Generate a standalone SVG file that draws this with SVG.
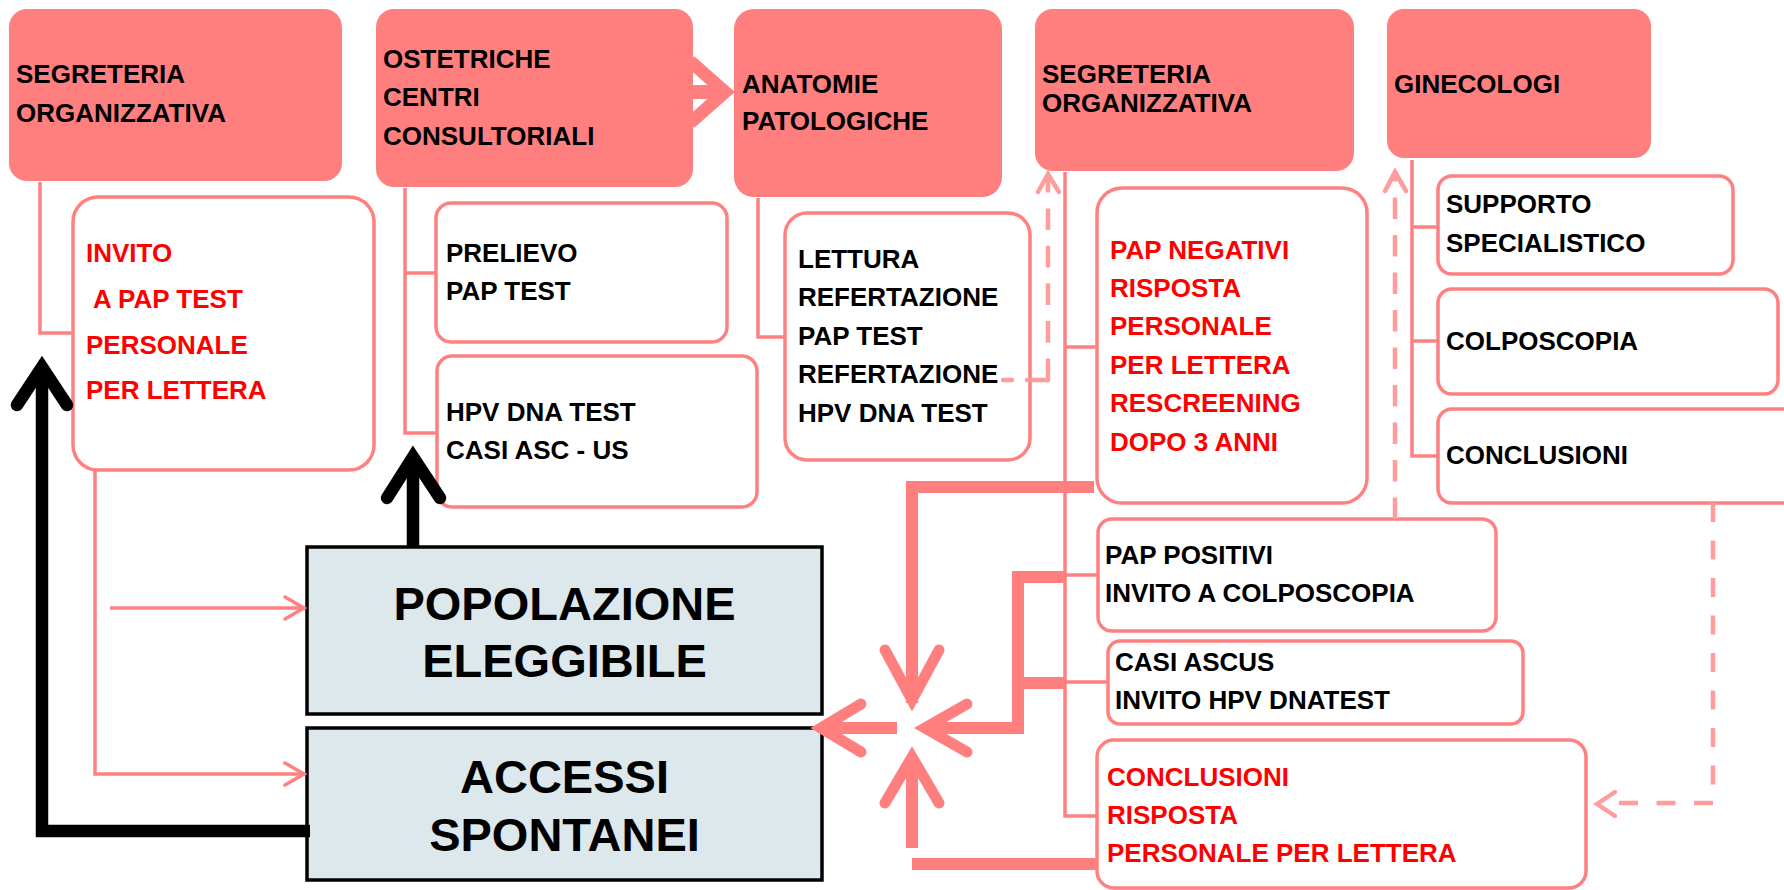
<svg xmlns="http://www.w3.org/2000/svg" width="1784" height="890" viewBox="0 0 1784 890">
<style>
text{font-family:"Liberation Sans",Arial,sans-serif;font-weight:bold;font-size:26px;fill:#000}
.red{fill:#FF0000}
.big{font-size:47px}
.hdr{fill:#FF7F7F}
.sub{fill:#FFFFFF;stroke:#FF8080;stroke-width:3.5}
.blue{fill:#DDE8EC;stroke:#000;stroke-width:3.5}
.thin{fill:none;stroke:#FF8080;stroke-width:3.5}
.dash{fill:none;stroke:#FF9C9C;stroke-width:4.5;stroke-dasharray:21.5 16}
.dsol{fill:none;stroke:#FF9C9C;stroke-width:4.5;stroke-linecap:round;stroke-linejoin:miter}
.thick{fill:none;stroke:#FF7F7F;stroke-width:12;stroke-linejoin:miter}
.thead{fill:none;stroke:#FF7F7F;stroke-width:11;stroke-linecap:round;stroke-linejoin:miter;stroke-miterlimit:10}
.black{fill:none;stroke:#000;stroke-width:12.5;stroke-linejoin:miter}
.bhead{fill:none;stroke:#000;stroke-width:12.5;stroke-linecap:round;stroke-linejoin:miter;stroke-miterlimit:10}
</style>

<g id="seg-org-1">
<rect class="hdr" x="9" y="9" width="333" height="172" rx="18"/>
<text x="16" y="83">SEGRETERIA</text>
<text x="16" y="122">ORGANIZZATIVA</text>
</g>
<g id="ostetriche">
<rect class="hdr" x="376" y="9" width="317" height="178" rx="18"/>
<text x="383" y="68">OSTETRICHE</text>
<text x="383" y="106">CENTRI</text>
<text x="383" y="145">CONSULTORIALI</text>
</g>
<g id="anatomie">
<rect class="hdr" x="734" y="9" width="268" height="188" rx="20"/>
<text x="742" y="93">ANATOMIE</text>
<text x="742" y="130">PATOLOGICHE</text>
</g>
<g id="seg-org-2">
<rect class="hdr" x="1035" y="9" width="319" height="162" rx="18"/>
<text x="1042" y="83">SEGRETERIA</text>
<text x="1042" y="112">ORGANIZZATIVA</text>
</g>
<g id="ginecologi">
<rect class="hdr" x="1387" y="9" width="264" height="149" rx="17"/>
<text x="1394" y="93">GINECOLOGI</text>
</g>

<g id="invito">
<rect class="sub" x="73" y="197" width="301" height="273" rx="25"/>
<text class="red" x="86" y="262">INVITO</text>
<text class="red" x="93" y="308">A PAP TEST</text>
<text class="red" x="86" y="354">PERSONALE</text>
<text class="red" x="86" y="399">PER LETTERA</text>
</g>
<g id="prelievo">
<rect class="sub" x="436" y="203" width="291" height="139" rx="15"/>
<text x="446" y="262">PRELIEVO</text>
<text x="446" y="300">PAP TEST</text>
</g>
<g id="hpv">
<rect class="sub" x="437" y="356" width="320" height="151" rx="15"/>
<text x="446" y="421">HPV DNA TEST</text>
<text x="446" y="459">CASI ASC - US</text>
</g>
<g id="lettura">
<rect class="sub" x="785" y="213" width="245" height="247" rx="22"/>
<text x="798" y="268">LETTURA</text>
<text x="798" y="306">REFERTAZIONE</text>
<text x="798" y="345">PAP TEST</text>
<text x="798" y="383">REFERTAZIONE</text>
<text x="798" y="422">HPV DNA TEST</text>
</g>
<g id="pap-negativi">
<rect class="sub" x="1097" y="188" width="270" height="315" rx="25"/>
<text class="red" x="1110" y="259">PAP NEGATIVI</text>
<text class="red" x="1110" y="297">RISPOSTA</text>
<text class="red" x="1110" y="335">PERSONALE</text>
<text class="red" x="1110" y="374">PER LETTERA</text>
<text class="red" x="1110" y="412">RESCREENING</text>
<text class="red" x="1110" y="451">DOPO 3 ANNI</text>
</g>
<g id="supporto">
<rect class="sub" x="1438" y="176" width="295" height="98" rx="14"/>
<text x="1446" y="213">SUPPORTO</text>
<text x="1446" y="252">SPECIALISTICO</text>
</g>
<g id="colposcopia">
<rect class="sub" x="1438" y="289" width="340" height="105" rx="14"/>
<text x="1446" y="350">COLPOSCOPIA</text>
</g>
<g id="conclusioni-gin">
<rect class="sub" x="1438" y="409" width="400" height="94" rx="14"/>
<text x="1446" y="464">CONCLUSIONI</text>
</g>
<g id="pap-positivi">
<rect class="sub" x="1098" y="519" width="398" height="112" rx="14"/>
<text x="1105" y="564">PAP POSITIVI</text>
<text x="1105" y="602">INVITO A COLPOSCOPIA</text>
</g>
<g id="casi-ascus">
<rect class="sub" x="1108" y="641" width="415" height="83" rx="12"/>
<text x="1115" y="671">CASI ASCUS</text>
<text x="1115" y="709">INVITO HPV DNATEST</text>
</g>
<g id="conclusioni-lettera">
<rect class="sub" x="1097" y="740" width="489" height="148" rx="17"/>
<text class="red" x="1107" y="786">CONCLUSIONI</text>
<text class="red" x="1107" y="824">RISPOSTA</text>
<text class="red" x="1107" y="862">PERSONALE PER LETTERA</text>
</g>
<g id="popolazione">
<rect class="blue" x="307" y="547" width="515" height="167"/>
<text class="big" x="564.5" y="620" text-anchor="middle">POPOLAZIONE</text>
<text class="big" x="564.5" y="677" text-anchor="middle">ELEGGIBILE</text>
</g>
<g id="accessi">
<rect class="blue" x="307" y="728" width="515" height="152"/>
<text class="big" x="564.5" y="793" text-anchor="middle">ACCESSI</text>
<text class="big" x="564.5" y="851" text-anchor="middle">SPONTANEI</text>
</g>

<g id="connectors">
<!-- double arrow ostetriche -> anatomie -->
<line x1="692" y1="92" x2="722" y2="92" stroke="#FF7F7F" stroke-width="14"/>
<polyline points="690,61 725,92 690,123" fill="none" stroke="#FF7F7F" stroke-width="13" stroke-linejoin="miter" stroke-miterlimit="10"/>
<!-- thin tree lines -->
<path class="thin" d="M40,182 V333 H73"/>
<path class="thin" d="M405,188 V433 H437 M405,273 H436"/>
<path class="thin" d="M758,198 V337 H785"/>
<path class="thin" d="M1065,172 V816 H1097 M1065,347 H1097 M1065,575 H1098 M1065,682 H1108"/>
<path class="thin" d="M1412,160 V456 H1438 M1412,227 H1438 M1412,341 H1438"/>
<!-- thin arrows to blue boxes -->
<path class="thin" d="M95,470 V774 H302"/>
<polyline class="thin" points="285,763 304,774 285,785" stroke-linecap="round"/>
<path class="thin" d="M110,608 H302"/>
<polyline class="thin" points="285,597 304,608 285,619" stroke-linecap="round"/>
<!-- dashed lettura -> segreteria -->
<path class="dsol" d="M1003,380 H1012 M1027,380 H1048" stroke-linecap="butt"/>
<path class="dash" d="M1048,380 V176"/>
<polyline class="dsol" points="1038,192 1048,174 1059,192"/>
<!-- dashed pap positivi -> ginecologi -->
<path class="dash" d="M1395,519 V174"/>
<polyline class="dsol" points="1385,191 1395,172 1406,191"/>
<!-- dashed conclusioni gin -> conclusioni lettera -->
<path class="dash" d="M1713,503 V803 H1600" style="stroke-dasharray:19 18.5"/>
<polyline class="dsol" points="1615,792 1597,804 1615,816"/>
<!-- thick pink arrows -->
<path class="thick" d="M1094,487 H912 V703"/>
<polyline class="thead" points="885,650 912,700 939,650"/>
<path class="thick" d="M1066,577 H1018 V728 H924 M1018,683 H1066"/>
<polyline class="thead" points="967,704 925,728 967,752"/>
<path class="thick" d="M912,848 V760 M1098,864 H912"/>
<polyline class="thead" points="885,803 912,757 939,803"/>
<path class="thick" d="M897,728 H830"/>
<polyline class="thead" points="861,704 821,728 861,752"/>
<!-- black arrows -->
<path class="black" d="M310,831 H42 V375"/>
<polyline class="bhead" points="17,405 42,367 67,405"/>
<path class="black" d="M413,547 V465"/>
<polyline class="bhead" points="387,498 413,457 440,498"/>
</g>
</svg>
